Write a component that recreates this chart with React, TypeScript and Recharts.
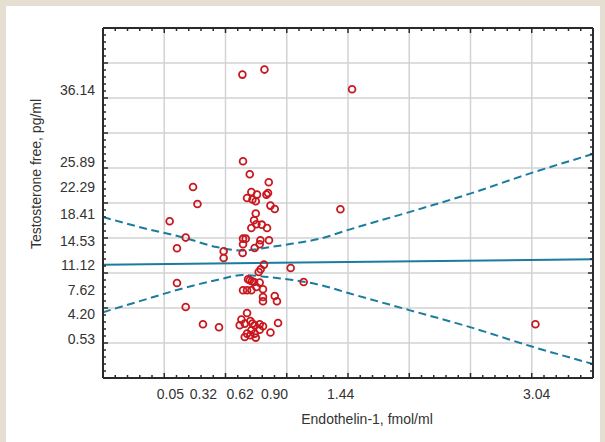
import {
  ComposedChart,
  Scatter,
  Line,
  XAxis,
  YAxis,
  ReferenceLine,
} from "recharts";

// Endothelin-1 (fmol/ml) vs free testosterone (pg/ml), one entry per patient
const endothelin = [
  0.638, 0.818, 1.533, 1.438, 3.03,
  0.643, 0.698, 0.853, 0.235, 0.711, 0.757, 0.834, 0.847, 0.676, 0.72,
  0.747, 0.271, 0.867, 0.902, 0.747, 0.733, 0.044, 0.752, 0.796, 0.839,
  0.711, 0.175, 0.643, 0.665, 0.785, 0.855, 0.104, 0.779, 0.643, 0.738,
  0.485, 0.485, 0.64,
  0.814, 0.787, 0.771, 1.032, 0.684, 0.698, 0.716, 0.733, 0.779, 0.752,
  0.806, 0.643, 0.676, 0.711, 0.806, 0.806, 0.902, 0.92, 1.138,
  0.104, 0.175, 0.316, 0.447,
  0.676, 0.63, 0.616, 0.657, 0.703, 0.72, 0.738, 0.779, 0.806, 0.779,
  0.711, 0.676, 0.657, 0.703, 0.747, 0.738, 0.867, 0.929,
];
const testosterone = [
  38.34, 39.06, 36.24, 19.1, 2.67,
  25.96, 24.1, 22.96, 22.29, 21.57, 21.2, 21.2, 21.43, 20.71, 20.49,
  20.24, 19.86, 19.63, 19.14, 18.49, 17.53, 17.39, 16.96, 16.91, 16.43,
  16.43, 15.06, 14.91, 14.91, 14.67, 14.67, 13.53, 14.1, 14.1, 13.57,
  13.1, 12.14, 12.86,
  11.2, 10.53, 10.14, 10.71, 9.1, 8.96, 8.81, 8.71, 8.63, 8.0,
  7.67, 7.53, 7.53, 7.53, 6.57, 5.96, 6.71, 5.96, 8.71,
  8.57, 5.14, 2.67, 2.24,
  4.29, 3.34, 2.53, 2.77, 3.14, 2.77, 2.53, 2.67, 2.39, 1.91,
  1.81, 1.34, 0.86, 1.1, 0.77, 1.34, 1.49, 2.86,
];

// regression line and 95% confidence band
const fitX = [-0.5, 3.5];
const fitY = [11.18, 11.97];
const bandX = [-0.5, -0.12, 0.15, 0.43, 0.64, 0.86, 1.05, 1.27, 1.51, 2.0, 2.49, 3.0, 3.5];
const bandUpper = [18.0, 16.2, 15.1, 13.7, 13.2, 13.7, 14.2, 14.9, 16.2, 18.7, 21.3, 24.3, 27.0];
const bandLower = [4.4, 6.4, 7.8, 9.0, 9.7, 9.4, 9.0, 8.3, 7.1, 4.7, 2.3, -0.5, -3.0];

const xTickLabels = [0.05, 0.32, 0.62, 0.9, 1.44, 3.04];
const yTickLabels = [0.53, 4.2, 7.62, 11.12, 14.53, 18.41, 22.29, 25.89, 36.14];
const xGrid = [0, 0.5, 1, 1.5, 2, 2.5, 3];
const yGrid = [0, 5, 10, 15, 20, 25, 30, 35, 40];

const X_DOMAIN: [number, number] = [-0.5, 3.5];
const Y_DOMAIN: [number, number] = [-5, 45];
const xMinor = Array.from({ length: 41 }, (_, i) => +(X_DOMAIN[0] + i * 0.1).toFixed(2));
const yMinor = Array.from({ length: 51 }, (_, i) => Y_DOMAIN[0] + i);
const xBottomTicks = Array.from(new Set([...xMinor, ...xTickLabels])).sort((a, b) => a - b);
const yLeftTicks = Array.from(new Set([...yMinor, ...yTickLabels])).sort((a, b) => a - b);

const FONT = "'Liberation Sans', Arial, Helvetica, sans-serif";
const TEXT = "#333333";
const FRAME = "#2a2a2a";
const TEAL = "#1a7c9e";
const RED = "#c8171e";

const points = endothelin.map((x, i) => ({ x, y: testosterone[i] }));
const fitData = fitX.map((x, i) => ({ x, y: fitY[i] }));
const bandData = bandX.map((x, i) => ({ x, upper: bandUpper[i], lower: bandLower[i] }));

const near = (a: number, b: number) => Math.abs(a - b) < 1e-6;
const isMajorX = (v: number) => near(v * 2, Math.round(v * 2));
const isMajorY = (v: number) => near(v / 5, Math.round(v / 5));

type Side = "top" | "bottom" | "left" | "right";

function mark(side: Side, x: number, y: number, v: number) {
  const horizontal = side === "top" || side === "bottom";
  const len = (horizontal ? isMajorX(v) : isMajorY(v)) ? 5 : 3;
  let x2 = x;
  let y2 = y;
  if (side === "top") y2 = y + len;
  if (side === "bottom") y2 = y - len;
  if (side === "left") x2 = x + len;
  if (side === "right") x2 = x - len;
  return <line x1={x} y1={y} x2={x2} y2={y2} stroke={FRAME} strokeWidth={1.5} />;
}

const BottomTick = (props: any) => {
  const { x, y, payload } = props;
  const v = payload.value;
  const isMinor = xMinor.some((m) => near(m, v));
  const isLabel = xTickLabels.some((m) => near(m, v));
  return (
    <g>
      {isMinor && mark("bottom", x, y, v)}
      {isLabel && (
        <text
          x={x}
          y={y + 20.5}
          textAnchor="middle"
          fontSize={14}
          fontFamily={FONT}
          fill={TEXT}
        >
          {v.toFixed(2)}
        </text>
      )}
    </g>
  );
};

const LeftTick = (props: any) => {
  const { x, y, payload } = props;
  const v = payload.value;
  const isMinor = yMinor.some((m) => near(m, v));
  const isLabel = yTickLabels.some((m) => near(m, v));
  return (
    <g>
      {isMinor && mark("left", x, y, v)}
      {isLabel && (
        <text
          x={x - 8}
          y={y + 5}
          textAnchor="end"
          fontSize={14}
          fontFamily={FONT}
          fill={TEXT}
        >
          {v.toFixed(2)}
        </text>
      )}
    </g>
  );
};

const TopTick = (props: any) => mark("top", props.x, props.y, props.payload.value);
const RightTick = (props: any) => mark("right", props.x, props.y, props.payload.value);

const Ring = (props: any) => (
  <circle cx={props.cx} cy={props.cy} r={3.4} fill="none" stroke={RED} strokeWidth={1.8} />
);

export default function App() {
  const axisLine = { stroke: FRAME, strokeWidth: 2 };
  return (
    <div
      style={{
        position: "absolute",
        left: 0,
        top: 0,
        width: 605,
        height: 442,
        background: "#e7ded2",
        overflow: "hidden",
      }}
    >
      <div
        style={{
          position: "absolute",
          left: 6,
          top: 6,
          width: 594,
          height: 436,
          background: "#ffffff",
        }}
      />
      <div style={{ position: "absolute", left: 0, top: 0 }}>
        <ComposedChart
          width={605}
          height={442}
          margin={{ top: 27, right: 11, bottom: 63, left: 102 }}
        >
          {xGrid.map((v) => (
            <ReferenceLine
              key={"gx" + v}
              x={v}
              xAxisId="b"
              yAxisId="l"
              stroke="#d2d2d2"
              strokeWidth={1.5}
            />
          ))}
          {yGrid.map((v) => (
            <ReferenceLine
              key={"gy" + v}
              y={v}
              xAxisId="b"
              yAxisId="l"
              stroke="#d2d2d2"
              strokeWidth={1.5}
            />
          ))}
          <Line
            data={bandData}
            xAxisId="b"
            yAxisId="l"
            dataKey="upper"
            type="monotone"
            stroke={TEAL}
            strokeWidth={2}
            strokeDasharray="8 4.5"
            dot={false}
            activeDot={false}
            isAnimationActive={false}
          />
          <Line
            data={bandData}
            xAxisId="b"
            yAxisId="l"
            dataKey="lower"
            type="monotone"
            stroke={TEAL}
            strokeWidth={2}
            strokeDasharray="8 4.5"
            dot={false}
            activeDot={false}
            isAnimationActive={false}
          />
          <Line
            data={fitData}
            xAxisId="b"
            yAxisId="l"
            dataKey="y"
            type="linear"
            stroke={TEAL}
            strokeWidth={2}
            dot={false}
            activeDot={false}
            isAnimationActive={false}
          />
          <Scatter
            data={points}
            xAxisId="b"
            yAxisId="l"
            shape={Ring}
            isAnimationActive={false}
          />
          <XAxis
            xAxisId="b"
            dataKey="x"
            type="number"
            domain={X_DOMAIN}
            allowDataOverflow
            ticks={xBottomTicks}
            interval={0}
            height={1}
            tickSize={0}
            tickMargin={0}
            tickLine={false}
            axisLine={axisLine}
            tick={BottomTick}
            label={(p: any) => {
              const vb = p.viewBox || { x: 103, y: 378, width: 490 };
              return (
                <text
                  x={vb.x + vb.width / 2 + 19}
                  y={vb.y + 46}
                  textAnchor="middle"
                  fontSize={14}
                  fontFamily={FONT}
                  fill={TEXT}
                >
                  Endothelin-1, fmol/ml
                </text>
              );
            }}
          />
          <XAxis
            xAxisId="t"
            orientation="top"
            dataKey="x"
            type="number"
            domain={X_DOMAIN}
            allowDataOverflow
            ticks={xMinor}
            interval={0}
            height={1}
            tickSize={0}
            tickMargin={0}
            tickLine={false}
            axisLine={axisLine}
            tick={TopTick}
          />
          <YAxis
            yAxisId="l"
            dataKey="y"
            type="number"
            domain={Y_DOMAIN}
            allowDataOverflow
            ticks={yLeftTicks}
            interval={0}
            width={1}
            tickSize={0}
            tickMargin={0}
            tickLine={false}
            axisLine={axisLine}
            tick={LeftTick}
            label={(p: any) => {
              const vb = p.viewBox || { x: 102, y: 28, width: 1, height: 350 };
              const cx = vb.x + vb.width - 62;
              const cy = vb.y + vb.height / 2 - 29;
              return (
                <text
                  x={cx}
                  y={cy}
                  transform={`rotate(-90 ${cx} ${cy})`}
                  textAnchor="middle"
                  fontSize={14}
                  fontFamily={FONT}
                  fill={TEXT}
                >
                  Testosterone free, pg/ml
                </text>
              );
            }}
          />
          <YAxis
            yAxisId="r"
            orientation="right"
            type="number"
            domain={Y_DOMAIN}
            allowDataOverflow
            ticks={yMinor}
            interval={0}
            width={1}
            tickSize={0}
            tickMargin={0}
            tickLine={false}
            axisLine={axisLine}
            tick={RightTick}
          />
        </ComposedChart>
      </div>
    </div>
  );
}
